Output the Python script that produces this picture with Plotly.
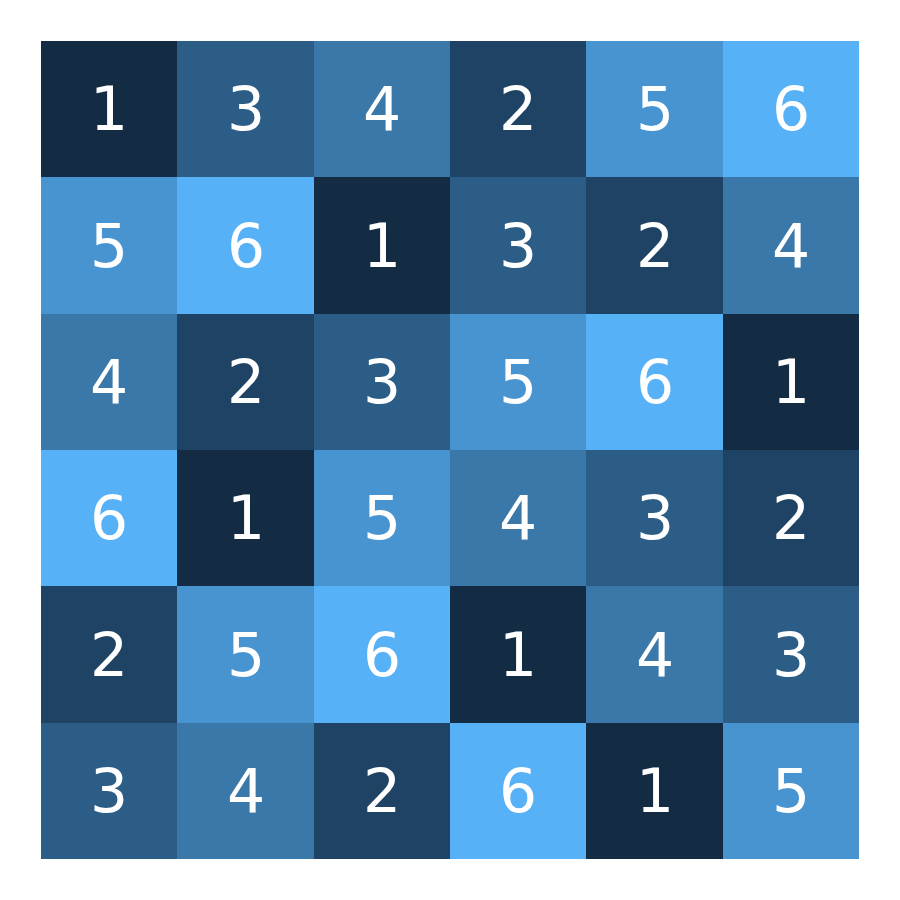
import plotly.graph_objects as go

cols = ["1", "2", "3", "4", "5", "6"]
rows = ["1", "2", "3", "4", "5", "6"]
values = [
    [1, 3, 4, 2, 5, 6],
    [5, 6, 1, 3, 2, 4],
    [4, 2, 3, 5, 6, 1],
    [6, 1, 5, 4, 3, 2],
    [2, 5, 6, 1, 4, 3],
    [3, 4, 2, 6, 1, 5],
]

LOW = "#132B43"
HIGH = "#56B1F7"


def hex_to_rgb(h):
    h = h.lstrip("#")
    return [int(h[i:i + 2], 16) / 255 for i in (0, 2, 4)]


def srgb_to_lin(c):
    return c / 12.92 if c <= 0.04045 else ((c + 0.055) / 1.055) ** 2.4


def lin_to_srgb(c):
    c = max(0.0, min(1.0, c))
    return 12.92 * c if c <= 0.0031308 else 1.055 * c ** (1 / 2.4) - 0.055


WX, WY, WZ = 0.95047, 1.0, 1.08883


def f(t):
    return t ** (1 / 3) if t > 216 / 24389 else (24389 / 27 * t + 16) / 116


def finv(t):
    return t ** 3 if t ** 3 > 216 / 24389 else (116 * t - 16) / (24389 / 27)


def to_lab(h):
    r, g, b = [srgb_to_lin(c) for c in hex_to_rgb(h)]
    x = 0.4124 * r + 0.3576 * g + 0.1805 * b
    y = 0.2126 * r + 0.7152 * g + 0.0722 * b
    z = 0.0193 * r + 0.1192 * g + 0.9505 * b
    fx, fy, fz = f(x / WX), f(y / WY), f(z / WZ)
    return (116 * fy - 16, 500 * (fx - fy), 200 * (fy - fz))


def from_lab(L, a, b):
    fy = (L + 16) / 116
    fx = fy + a / 500
    fz = fy - b / 200
    x, y, z = finv(fx) * WX, finv(fy) * WY, finv(fz) * WZ
    r = 3.2406 * x - 1.5372 * y - 0.4986 * z
    g = -0.9689 * x + 1.8758 * y + 0.0415 * z
    bb = 0.0557 * x - 0.2040 * y + 1.0570 * z
    return "rgb({},{},{})".format(*[round(lin_to_srgb(c) * 255) for c in (r, g, bb)])


l0, l1 = to_lab(LOW), to_lab(HIGH)
colorscale = []
n = 20
for i in range(n + 1):
    t = i / n
    colorscale.append([t, from_lab(*[l0[k] + (l1[k] - l0[k]) * t for k in range(3)])])

fig = go.Figure(
    go.Heatmap(
        z=values,
        x=cols,
        y=rows,
        zmin=1,
        zmax=6,
        colorscale=colorscale,
        showscale=False,
        texttemplate="%{z}",
        textfont=dict(family="DejaVu Sans", size=60, color="white"),
        hoverinfo="skip",
        xgap=0,
        ygap=0,
    )
)

fig.update_layout(
    width=900,
    height=900,
    margin=dict(l=41, r=41, t=41, b=41),
    paper_bgcolor="white",
    plot_bgcolor="white",
    xaxis=dict(visible=False, showgrid=False, zeroline=False),
    yaxis=dict(visible=False, showgrid=False, zeroline=False, autorange="reversed"),
)

fig.write_html("out.html")
